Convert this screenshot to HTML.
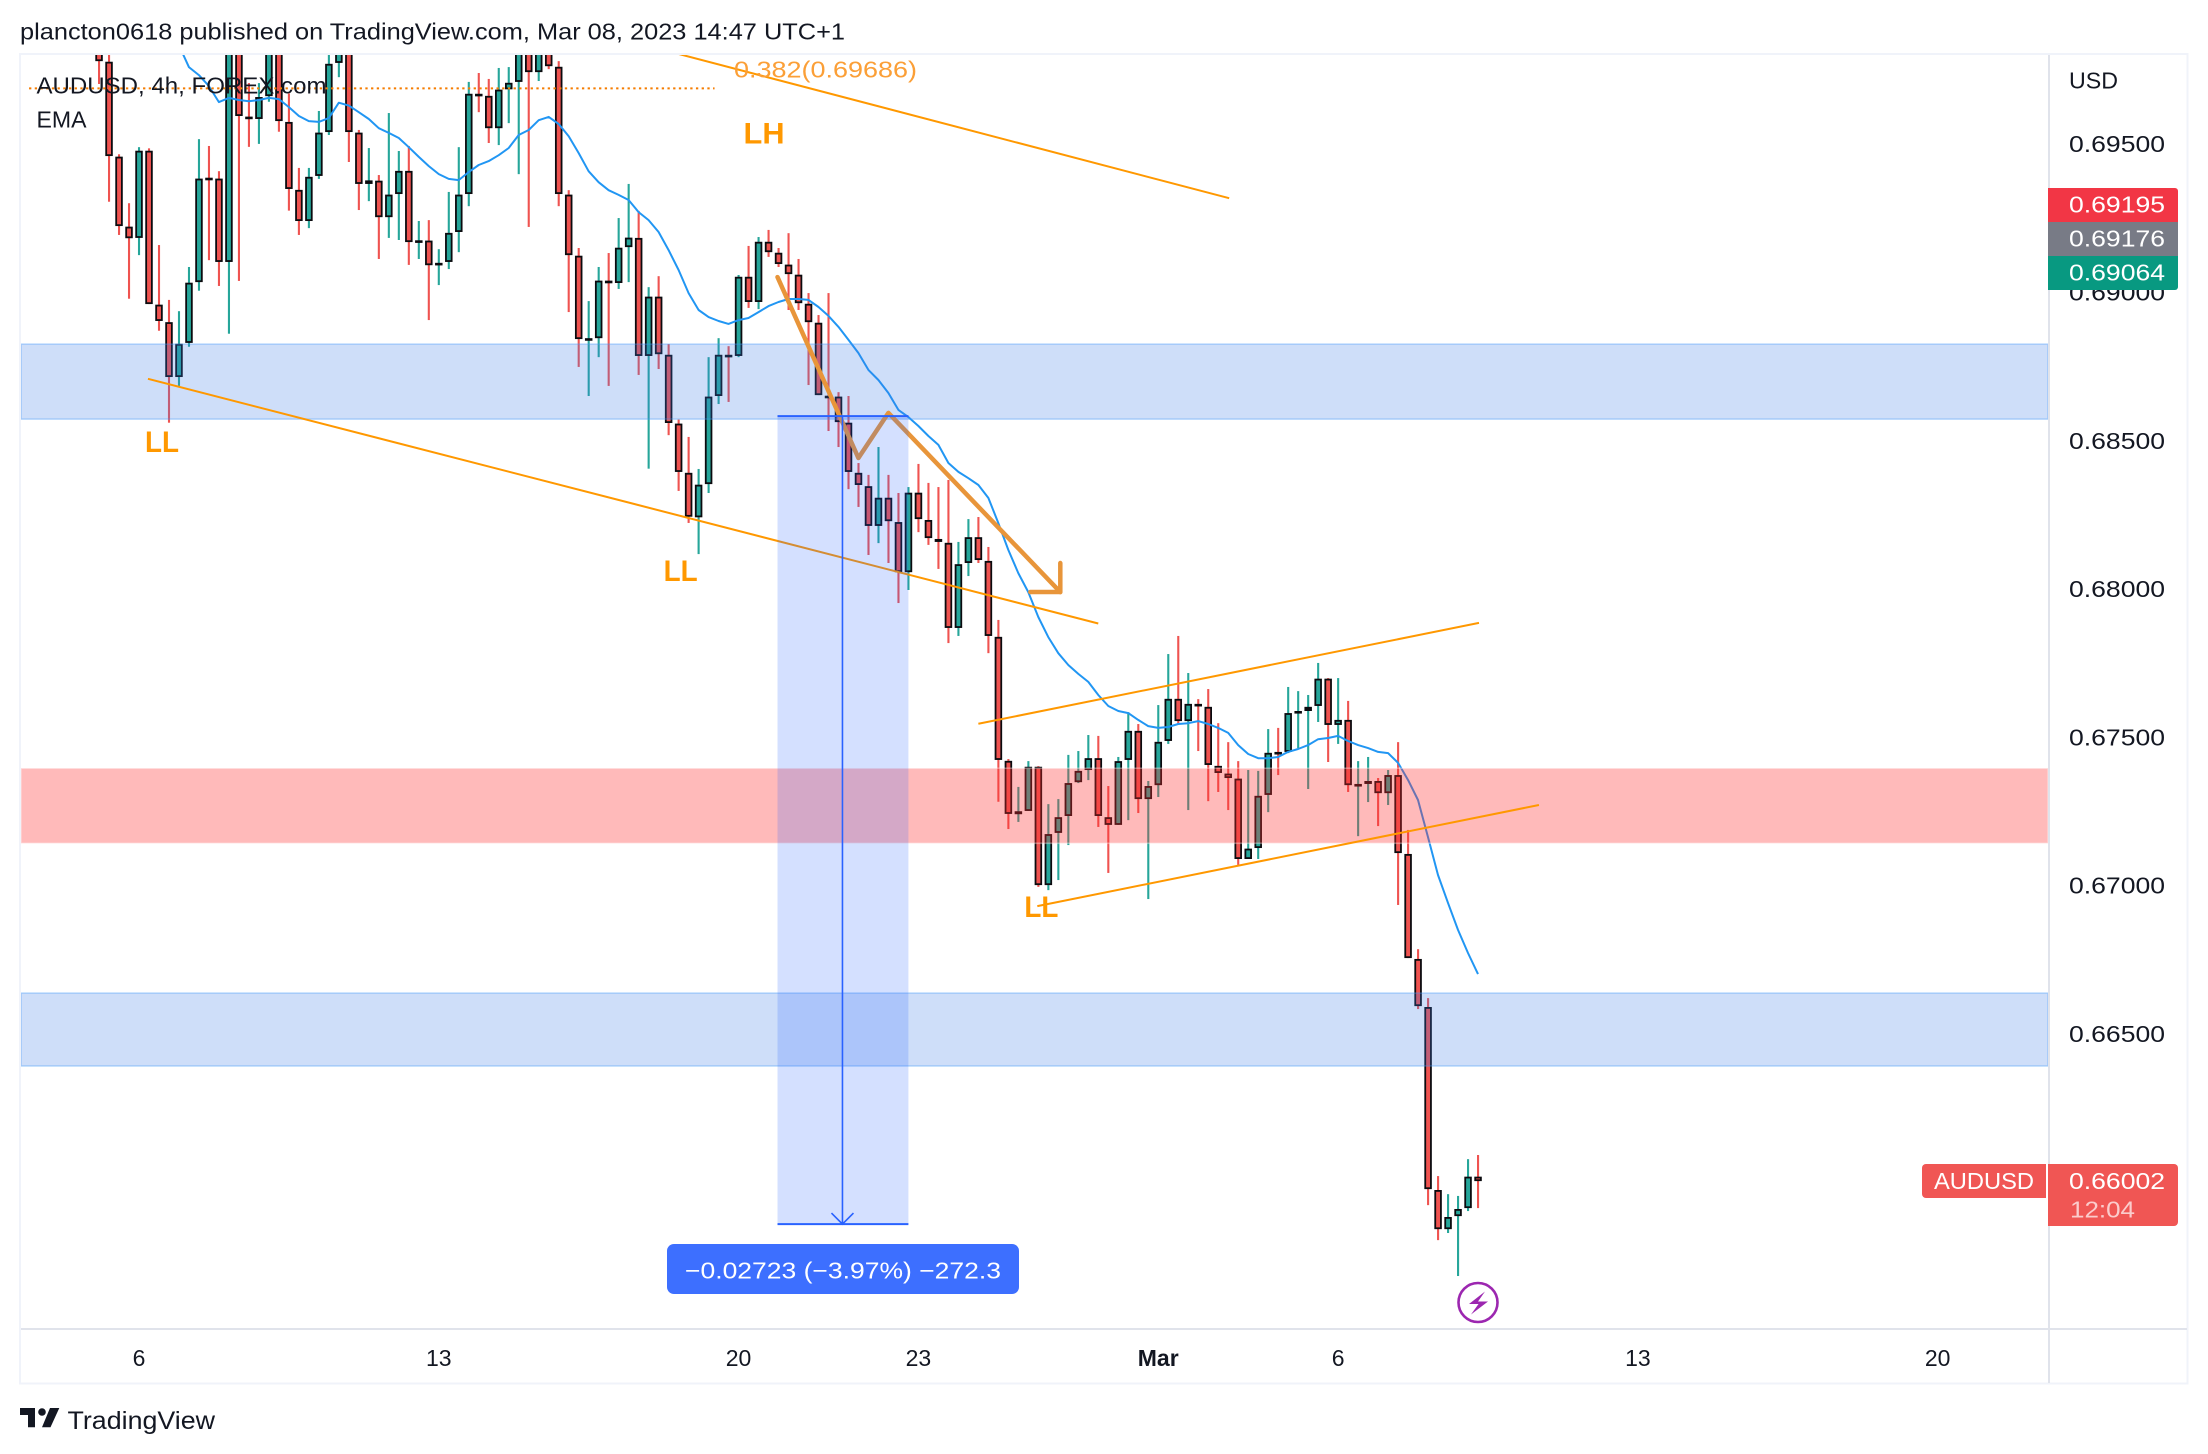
<!DOCTYPE html>
<html lang="en">
<head>
<meta charset="utf-8">
<title>AUDUSD 4h chart</title>
<style>
html,body{margin:0;padding:0;background:#fff;width:2208px;height:1454px;overflow:hidden}
svg{display:block}
text{font-family:"Liberation Sans",sans-serif;fill:#131722;font-size:23px}
</style>
</head>
<body>
<svg id="chart" xmlns="http://www.w3.org/2000/svg" width="2208" height="1454" viewBox="0 0 2208 1454">
  <defs><clipPath id="plot-clip"><rect x="21" y="55" width="2027" height="1273"/></clipPath></defs>
  <text x="20" y="39.5" textLength="825" lengthAdjust="spacingAndGlyphs">plancton0618 published on TradingView.com, Mar 08, 2023 14:47 UTC+1</text>
  <rect x="20" y="54" width="2167.5" height="1329.5" fill="none" stroke="#f0f3fa" stroke-width="2"/>
  <g id="plot" clip-path="url(#plot-clip)"></g>
  <rect x="2048" y="55" width="2" height="1328" fill="#e0e3eb"/>
  <rect x="21" y="1328" width="2166" height="2" fill="#e0e3eb"/>
  <g id="overlay"></g>
  <g id="axes"></g>

  <text x="36.5" y="93.5" textLength="290" lengthAdjust="spacingAndGlyphs">AUDUSD, 4h, FOREX.com</text>
  <text x="36.5" y="127.5" textLength="50" lengthAdjust="spacingAndGlyphs">EMA</text>
  <text x="2069" y="88.5" textLength="49" lengthAdjust="spacingAndGlyphs">USD</text>

  <path d="M2048 188H2175a3 3 0 0 1 3 3V222H2048Z" fill="#f23645"/>
  <text x="2069" y="212.7" textLength="96" lengthAdjust="spacingAndGlyphs" style="fill:#fff">0.69195</text>
  <rect x="2048" y="222" width="130" height="34" fill="#787b86"/>
  <text x="2069" y="246.7" textLength="96" lengthAdjust="spacingAndGlyphs" style="fill:#fff">0.69176</text>
  <path d="M2048 256H2178V287a3 3 0 0 1 -3 3H2048Z" fill="#089981"/>
  <text x="2069" y="280.7" textLength="96" lengthAdjust="spacingAndGlyphs" style="fill:#fff">0.69064</text>

  <path d="M1926 1164H2046V1198H1926a4 4 0 0 1 -4 -4V1168a4 4 0 0 1 4 -4Z" fill="#f05654"/>
  <text x="1934" y="1189" textLength="100" lengthAdjust="spacingAndGlyphs" style="fill:#fff">AUDUSD</text>
  <path d="M2048 1164H2174a4 4 0 0 1 4 4V1222a4 4 0 0 1 -4 4H2048Z" fill="#f05654"/>
  <text x="2069" y="1189" textLength="96" lengthAdjust="spacingAndGlyphs" style="fill:#fff">0.66002</text>
  <text x="2070" y="1217.3" textLength="65" lengthAdjust="spacingAndGlyphs" style="fill:#fff;fill-opacity:.7">12:04</text>

  <g>
    <polygon points="20,1408 35,1408 35,1427.3 28,1427.3 28,1415 20,1415" fill="#131722"/>
    <circle cx="42" cy="1412" r="3.8" fill="#131722"/>
    <polygon points="59.3,1408 50,1408 42,1427.3 50.5,1427.3" fill="#131722"/>
    <text x="67.5" y="1429" textLength="147.5" lengthAdjust="spacingAndGlyphs" style="font-size:25px">TradingView</text>
  </g>
</svg>
<script>
// Price data
const highs = [.69883,.69822,.69464,.69299,.69488,.69484,.69158,.68973,.68935,.69084,
.69515,.69492,.69407,.69883,.69883,.69704,.69704,.69883,.69883,.69669,
.69418,.69418,.69610,.69832,.69866,.69866,.69546,.69485,.69394,.69603,
.69475,.69492,.69239,.69242,.69144,.69337,.69488,.69708,.69738,.69718,
.69755,.69758,.69883,.69883,.69866,.69883,.69778,.69343,.69148,.68969,
.69084,.69131,.69249,.69364,.69273,.69016,.69053,.68824,.68570,.68511,
.68403,.68780,.68844,.68817,.69057,.69155,.69185,.69209,.69148,.69198,
.69111,.68996,.68922,.68996,.68662,.68649,.68423,.68383,.68477,.68383,
.68322,.68342,.68420,.68356,.68342,.68366,.68157,.68234,.68241,.68140,
.67894,.67425,.67331,.67418,.67401,.67273,.67290,.67439,.67452,.67506,
.67503,.67334,.67432,.67583,.67543,.67351,.67607,.67779,.67840,.67715,
.67627,.67661,.67546,.67482,.67418,.67388,.67385,.67526,.67530,.67668,
.67654,.67641,.67749,.67698,.67698,.67621,.67418,.67432,.67361,.67388,
.67482,.67186,.66784,.66619,.66019,.65958,.65952,.66076,.66090];
const lows = [.69701,.69304,.69192,.68977,.69124,.68959,.68869,.68559,.68683,.68815,
.69004,.69107,.69020,.68859,.69037,.69489,.69499,.69641,.69540,.69274,
.69192,.69215,.69381,.69529,.69724,.69438,.69276,.69306,.69111,.69182,
.69175,.69091,.69111,.68905,.69023,.69077,.69134,.69289,.69606,.69502,
.69495,.69569,.69397,.69219,.69711,.69751,.69289,.68932,.68747,.68649,
.68780,.68683,.69010,.69033,.68720,.68404,.68740,.68517,.68329,.68221,
.68116,.68322,.68622,.68629,.68780,.68946,.68942,.69118,.69084,.68939,
.68939,.68686,.68652,.68531,.68477,.68335,.68275,.68113,.68153,.68086,
.67951,.67995,.68190,.68147,.68066,.67816,.67840,.68042,.68086,.67782,
.67281,.67189,.67213,.67250,.66994,.66983,.67017,.67135,.67344,.67354,
.67196,.67041,.67203,.67219,.67243,.66953,.67297,.67476,.67540,.67253,
.67452,.67283,.67314,.67253,.67068,.67088,.67088,.67246,.67371,.67445,
.67462,.67324,.67550,.67415,.67476,.67314,.67165,.67280,.67199,.67270,
.66933,.66754,.66582,.65921,.65803,.65827,.65682,.65901,.65911];
const opens = [.69849,.69776,.69456,.69220,.69182,.69476,.68957,.68898,.68713,.68828,
.69033,.69385,.69382,.69101,.69849,.69591,.69583,.69660,.69849,.69573,
.69344,.69239,.69391,.69539,.69772,.69832,.69537,.69364,.69375,.69252,
.69330,.69408,.69168,.69173,.69091,.69101,.69202,.69330,.69668,.69661,
.69552,.69683,.69708,.69849,.69741,.69849,.69759,.69328,.69122,.68839,
.68844,.69038,.69030,.69151,.69182,.68784,.68984,.68788,.68556,.68390,
.68240,.68352,.68649,.68788,.68784,.69051,.68966,.69169,.69132,.69092,
.69058,.68960,.68896,.68650,.68647,.68559,.68390,.68345,.68211,.68306,
.68224,.68055,.68323,.68231,.68167,.68154,.67867,.68086,.68173,.68093,
.67837,.67419,.67239,.67250,.67399,.67000,.67176,.67233,.67347,.67388,
.67428,.67229,.67203,.67422,.67520,.67290,.67337,.67486,.67628,.67553,
.67611,.67601,.67402,.67376,.67359,.67088,.67125,.67304,.67449,.67449,
.67584,.67587,.67604,.67696,.67540,.67557,.67336,.67341,.67351,.67310,
.67371,.67105,.66751,.66589,.65972,.65840,.65884,.65911,.66017];
const closes = [.69778,.69458,.69222,.69181,.69476,.68959,.68902,.68713,.68825,.69031,
.69382,.69381,.69101,.69849,.69593,.69583,.69657,.69849,.69576,.69347,
.69239,.69388,.69537,.69769,.69832,.69539,.69364,.69376,.69252,.69328,
.69408,.69168,.69174,.69090,.69098,.69199,.69328,.69668,.69663,.69552,
.69682,.69705,.69849,.69741,.69832,.69761,.69330,.69124,.68841,.68844,
.69038,.69029,.69149,.69183,.68784,.68984,.68790,.68558,.68393,.68242,
.68350,.68647,.68788,.68783,.69051,.68966,.69169,.69134,.69094,.69060,
.68962,.68898,.68652,.68647,.68561,.68393,.68349,.68211,.68306,.68227,
.68055,.68323,.68234,.68170,.68157,.67867,.68082,.68173,.68096,.67840,
.67422,.67240,.67249,.67399,.67000,.67172,.67229,.67344,.67385,.67428,
.67233,.67203,.67418,.67520,.67290,.67334,.67483,.67628,.67553,.67611,
.67604,.67405,.67378,.67361,.67088,.67123,.67301,.67446,.67445,.67580,
.67587,.67601,.67696,.67540,.67557,.67337,.67341,.67351,.67310,.67371,
.67108,.66754,.66592,.65975,.65840,.65881,.65908,.66017,.66002];
const emaStartBar = 8;
const emaValues = [.69832,.69758,.69731,.69694,.69640,.69654,.69647,.69643,.69647,.69654,
.69650,.69623,.69593,.69576,.69573,.69586,.69638,.69628,.69606,.69583,
.69552,.69536,.69519,.69488,.69455,.69424,.69397,.69381,.69377,.69404,
.69428,.69441,.69461,.69485,.69529,.69546,.69579,.69590,.69566,.69525,
.69468,.69407,.69370,.69343,.69327,.69310,.69269,.69242,.69202,.69141,
.69074,.68996,.68939,.68915,.68902,.68892,.68905,.68912,.68932,.68952,
.68966,.68976,.68976,.68973,.68949,.68919,.68882,.68838,.68794,.68737,
.68703,.68659,.68602,.68578,.68548,.68514,.68484,.68423,.68393,.68372,
.68349,.68305,.68221,.68130,.68052,.67988,.67904,.67836,.67782,.67742,
.67712,.67685,.67641,.67604,.67587,.67580,.67557,.67536,.67530,.67533,
.67543,.67546,.67553,.67543,.67530,.67513,.67472,.67442,.67428,.67428,
.67432,.67449,.67459,.67472,.67492,.67496,.67503,.67486,.67472,.67462,
.67449,.67445,.67412,.67354,.67287,.67162,.67034,.66940,.66849,.66771,.66700];

const priceTicks = [0.695,0.69,0.685,0.68,0.675,0.67,0.665];
const priceTickLabels = ["0.69500","0.69000","0.68500","0.68000","0.67500","0.67000","0.66500"];
const timeTickBars = [4,34,64,82,106,124,154,184];
const timeTickLabels = ["6","13","20","23","Mar","6","13","20"];

// Drawing anchors in (bar, price)
const blueZoneUpper = [.68824,.68571];
const redZone = [.67394,.67141];
const blueZoneLower = [.66636,.66390];
const lowerTrendStart = [4.9,.68707];
const lowerTrendEnd = [100,.67882];
const upperTrendStart = [56.1,.69819];
const upperTrendEnd = [113.1,.69316];
const channelTopStart = [88,.67544];
const channelTopEnd = [138.1,.67884];
const channelBottomStart = [93.9,.66929];
const channelBottomEnd = [144.1,.67270];
const pathBars = [67.9,76,79,96.2];
const pathPrices = [.69050,.68440,.68592,.67988];
const measureBars = [67.9,81,74.4];
const measurePrices = [.68581,.65857];
const fibLevel = .69686;
const fibBars = [-7,61.6];

// Axis functions
const xAt = i => 99 + i * (1478 - 99) / 138;
const yAt = p => 143.6 + (0.695 - p) * 29660;

const NS = "http://www.w3.org/2000/svg";
function mk(tag, attrs, parent, txt){
  const el = document.createElementNS(NS, tag);
  for (const k in attrs) el.setAttribute(k, attrs[k]);
  if (txt !== undefined) el.textContent = txt;
  parent.appendChild(el);
  return el;
}
const plot = document.getElementById("plot");
const overlay = document.getElementById("overlay");
const axes = document.getElementById("axes");

// Candles
const candleLayer = mk("g", {}, plot);


closes.forEach((c, i) => {
  const o = opens[i], cx = xAt(i), up = c >= o;
  const col = up ? "#26a69a" : "#ef5350";
  const g = mk("g", {}, candleLayer);
  
  
  const top = yAt(Math.max(o, c)), bot = yAt(Math.min(o, c));
  const h = Math.max(bot - top, 2.6);
  mk("rect", {x: cx - 1, y: yAt(highs[i]), width: 2.1, height: Math.max(yAt(lows[i]) - yAt(highs[i]), 1), fill: col}, g);
  mk("rect", {x: cx - 3.7, y: top, width: 7.5, height: h, fill: "#0b0b0f"}, g);
  if (h > 4.2) mk("rect", {x: cx - 1.9, y: top + 1.8, width: 3.9, height: h - 3.6, fill: col}, g);
});

// EMA
const emaPoints = emaValues.map((v, k) => xAt(emaStartBar + k).toFixed(1) + "," + yAt(v).toFixed(1)).join(" ");
const ema = mk("polyline", {points: emaPoints, fill: "none", stroke: "#2196f3", "stroke-width": 2, "stroke-linejoin": "round"}, plot);



// Zones
function zone(range, fill, stroke){
  return mk("rect", {x: 21, y: yAt(range[0]), width: 2027, height: yAt(range[1]) - yAt(range[0]), fill: fill, stroke: stroke, "stroke-width": 1.6}, plot);
}
const zoneA = zone(blueZoneUpper, "rgba(60,124,230,.25)", "rgba(70,155,250,.35)");


const zoneB = zone(redZone, "rgba(255,45,45,.33)", "rgba(255,255,255,.35)");


const zoneC = zone(blueZoneLower, "rgba(60,124,230,.25)", "rgba(70,155,250,.35)");



// Trend lines
function trend(a, b){
  return mk("line", {x1: xAt(a[0]), y1: yAt(a[1]), x2: xAt(b[0]), y2: yAt(b[1]), stroke: "#ff9800", "stroke-width": 2}, plot);
}
const t1 = trend(lowerTrendStart, lowerTrendEnd);


const t2 = trend(upperTrendStart, upperTrendEnd);


const t3 = trend(channelTopStart, channelTopEnd);


const t4 = trend(channelBottomStart, channelBottomEnd);



// Thick path with arrow head
const pathPts = pathBars.map((b, k) => xAt(b).toFixed(1) + "," + yAt(pathPrices[k]).toFixed(1));
const tipX = xAt(pathBars[3]), tipY = yAt(pathPrices[3]);
const thick = mk("polyline", {points: pathPts.join(" "), fill: "none", stroke: "#e8953a", "stroke-width": 4.5, "stroke-linejoin": "round", "stroke-linecap": "round"}, plot);


const head = mk("polyline", {points: (tipX - 30) + "," + tipY + " " + tipX + "," + tipY + " " + tipX + "," + (tipY - 29), fill: "none", stroke: "#e8953a", "stroke-width": 4.5, "stroke-linejoin": "round", "stroke-linecap": "round"}, plot);



// Fib level
const fibLine = mk("line", {x1: xAt(fibBars[0]), y1: yAt(fibLevel), x2: xAt(fibBars[1]), y2: yAt(fibLevel), stroke: "#f57c00", "stroke-width": 2, "stroke-dasharray": "2.3 3.4"}, plot);


const fibText = mk("text", {x: 734, y: 77.5, textLength: 183, lengthAdjust: "spacingAndGlyphs", style: "fill:#fb9f37"}, plot, "0.382(0.69686)");



// Measure tool
const mx0 = xAt(measureBars[0]), mx1 = xAt(measureBars[1]), mxc = xAt(measureBars[2]);
const my0 = yAt(measurePrices[0]), my1 = yAt(measurePrices[1]);
const mFill = mk("rect", {x: mx0, y: my0, width: mx1 - mx0, height: my1 - my0, fill: "rgba(41,98,255,.2)"}, plot);


const mTop = mk("line", {x1: mx0, y1: my0, x2: mx1, y2: my0, stroke: "#2962ff", "stroke-width": 2}, plot);


const mBot = mk("line", {x1: mx0, y1: my1, x2: mx1, y2: my1, stroke: "#2962ff", "stroke-width": 2}, plot);


const mArrow = mk("path", {d: "M" + mxc + " " + my0 + "V" + my1 + "M" + (mxc - 11) + " " + (my1 - 11) + "L" + mxc + " " + my1 + "L" + (mxc + 11) + " " + (my1 - 11), fill: "none", stroke: "#2962ff", "stroke-width": 1.6}, plot);


const mBox = mk("rect", {x: 667, y: 1244, width: 352, height: 50, rx: 7, fill: "#3d6fff"}, plot);


const mText = mk("text", {x: 685, y: 1278.3, textLength: 316, lengthAdjust: "spacingAndGlyphs", style: "fill:#fff"}, plot, "\u22120.02723 (\u22123.97%) \u2212272.3");



// Swing labels
const swingNames = ["LH","LL","LL","LL"];
const swingBars = [64.5,4.6,56.5,92.6];
const swingPrices = [.69500,.68460,.68025,.66893];
swingNames.forEach((s, k) => {
  const el = mk("text", {x: xAt(swingBars[k]), y: yAt(swingPrices[k]), textLength: s === "LH" ? 41 : 34, lengthAdjust: "spacingAndGlyphs", style: "fill:#ff9800;font-size:30px;font-weight:bold"}, plot, s);
  
  
});

// Lightning marker
const bolt = mk("g", {}, overlay);


mk("circle", {cx: 1478, cy: 1302.5, r: 19.5, fill: "#fff", stroke: "#9c27b0", "stroke-width": 2.6}, bolt);
mk("polygon", {points: "1485,1291.5 1469,1304 1478.5,1304 1471,1314.5 1488,1301.5 1478,1301.5", fill: "#9c27b0"}, bolt);

// Axis labels
priceTicks.forEach((p, k) => {
  const el = mk("text", {x: 2069, y: yAt(p) + 8.6, textLength: 96, lengthAdjust: "spacingAndGlyphs"}, axes, priceTickLabels[k]);
  
  
});
timeTickBars.forEach((b, k) => {
  const el = mk("text", {x: xAt(b), y: 1365.8, "text-anchor": "middle", style: timeTickLabels[k] === "Mar" ? "font-weight:bold" : ""}, axes, timeTickLabels[k]);
  
  
});
</script>
</body>
</html>
